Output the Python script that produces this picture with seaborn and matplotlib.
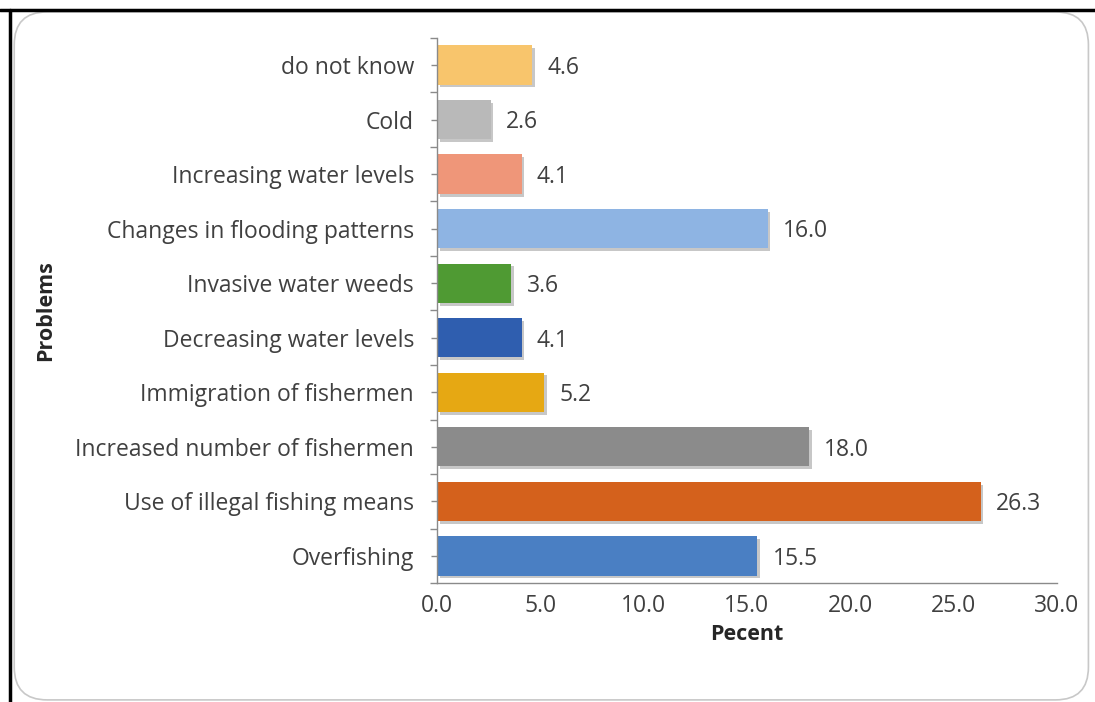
import matplotlib
matplotlib.use("Agg")
import matplotlib.pyplot as plt
import matplotlib.patheffects as pe
from matplotlib.patches import FancyBboxPatch
from matplotlib.lines import Line2D
from matplotlib.ticker import MultipleLocator, FixedLocator, FormatStrFormatter
import seaborn as sns
import pandas as pd

problems = [
    "do not know",
    "Cold",
    "Increasing water levels",
    "Changes in flooding patterns",
    "Invasive water weeds",
    "Decreasing water levels",
    "Immigration of fishermen",
    "Increased number of fishermen",
    "Use of illegal fishing means",
    "Overfishing",
]
percent = [4.6, 2.6, 4.1, 16.0, 3.6, 4.1, 5.2, 18.0, 26.3, 15.5]
bar_colors = [
    "#F8C56C", "#B9B9B9", "#EF9679", "#8EB4E3", "#4F9A33",
    "#2F5EAF", "#E6A813", "#8B8B8B", "#D4611C", "#4A7FC3",
]

sns.set_theme(style="white")
plt.rcParams["font.family"] = ["Open Sans", "DejaVu Sans"]
text_color = "#404040"
fs = 16.5

df = pd.DataFrame({"Problem": problems, "Percent": percent})

fig = plt.figure(figsize=(10.95, 7.02), dpi=100)
ax = fig.add_axes([0.399, 0.1692, 0.5663, 0.777])

sns.barplot(
    data=df, y="Problem", x="Percent", hue="Problem", palette=bar_colors,
    order=problems, hue_order=problems, legend=False, width=0.72,
    saturation=1, ax=ax,
)
for patch in ax.patches:
    patch.set_edgecolor("none")
    patch.set_path_effects([
        pe.SimplePatchShadow(offset=(2, -2), shadow_rgbFace="#000000", alpha=0.22),
        pe.Normal(),
    ])

# value labels to the right of each bar
for i, v in enumerate(percent):
    ax.annotate(f"{v:.1f}", xy=(v, i), xytext=(11, -2), textcoords="offset points",
                va="center", ha="left", fontsize=fs, color=text_color)

ax.set_xlim(0, 30)
ax.set_ylim(len(problems) - 0.5, -0.5)
ax.xaxis.set_major_locator(MultipleLocator(5))
ax.xaxis.set_minor_locator(MultipleLocator(1))
ax.xaxis.set_major_formatter(FormatStrFormatter("%.1f"))

# category boundaries get outward ticks, category centres carry the labels
ax.yaxis.set_major_locator(FixedLocator([i - 0.5 for i in range(len(problems) + 1)]))
ax.yaxis.set_minor_locator(FixedLocator(list(range(len(problems)))))
ax.set_yticklabels([])
ax.set_yticks(range(len(problems)), labels=problems, minor=True)

ax.tick_params(axis="x", which="major", direction="inout", length=12, width=1,
               color="#8a8a8a", labelsize=fs, labelcolor=text_color, pad=2)
ax.tick_params(axis="x", which="minor", direction="inout", length=9, width=1,
               color="#8a8a8a")
ax.tick_params(axis="y", which="major", direction="out", length=5, width=1,
               color="#8a8a8a", left=True)
ax.tick_params(axis="y", which="minor", direction="inout", length=9, width=1,
               color="#8a8a8a", labelsize=fs, labelcolor=text_color, pad=12,
               left=True)

for side in ["top", "right"]:
    ax.spines[side].set_visible(False)
for side in ["left", "bottom"]:
    ax.spines[side].set_color("#8a8a8a")
    ax.spines[side].set_linewidth(1)

ax.set_xlabel("Pecent", fontsize=15.5, fontweight="bold", color="#262626", labelpad=4)
ax.set_ylabel("Problems", fontsize=15.5, fontweight="bold", color="#262626")
ax.yaxis.set_label_coords(-0.6145, 0.5)

# rounded chart-area border
frame = FancyBboxPatch(
    (0.013, 0.003), 0.981, 0.98, boxstyle="round,pad=0,rounding_size=0.03",
    transform=fig.transFigure, facecolor="none", edgecolor="#c8c8c8",
    linewidth=1.2, mutation_aspect=1095 / 702,
)
fig.add_artist(frame)
# page border lines
fig.add_artist(Line2D([0, 1], [0.986, 0.986], transform=fig.transFigure,
                      color="black", linewidth=2.5))
fig.add_artist(Line2D([0.0095, 0.0095], [0, 0.986], transform=fig.transFigure,
                      color="black", linewidth=2.5))

fig.savefig("out.png", dpi=100)
